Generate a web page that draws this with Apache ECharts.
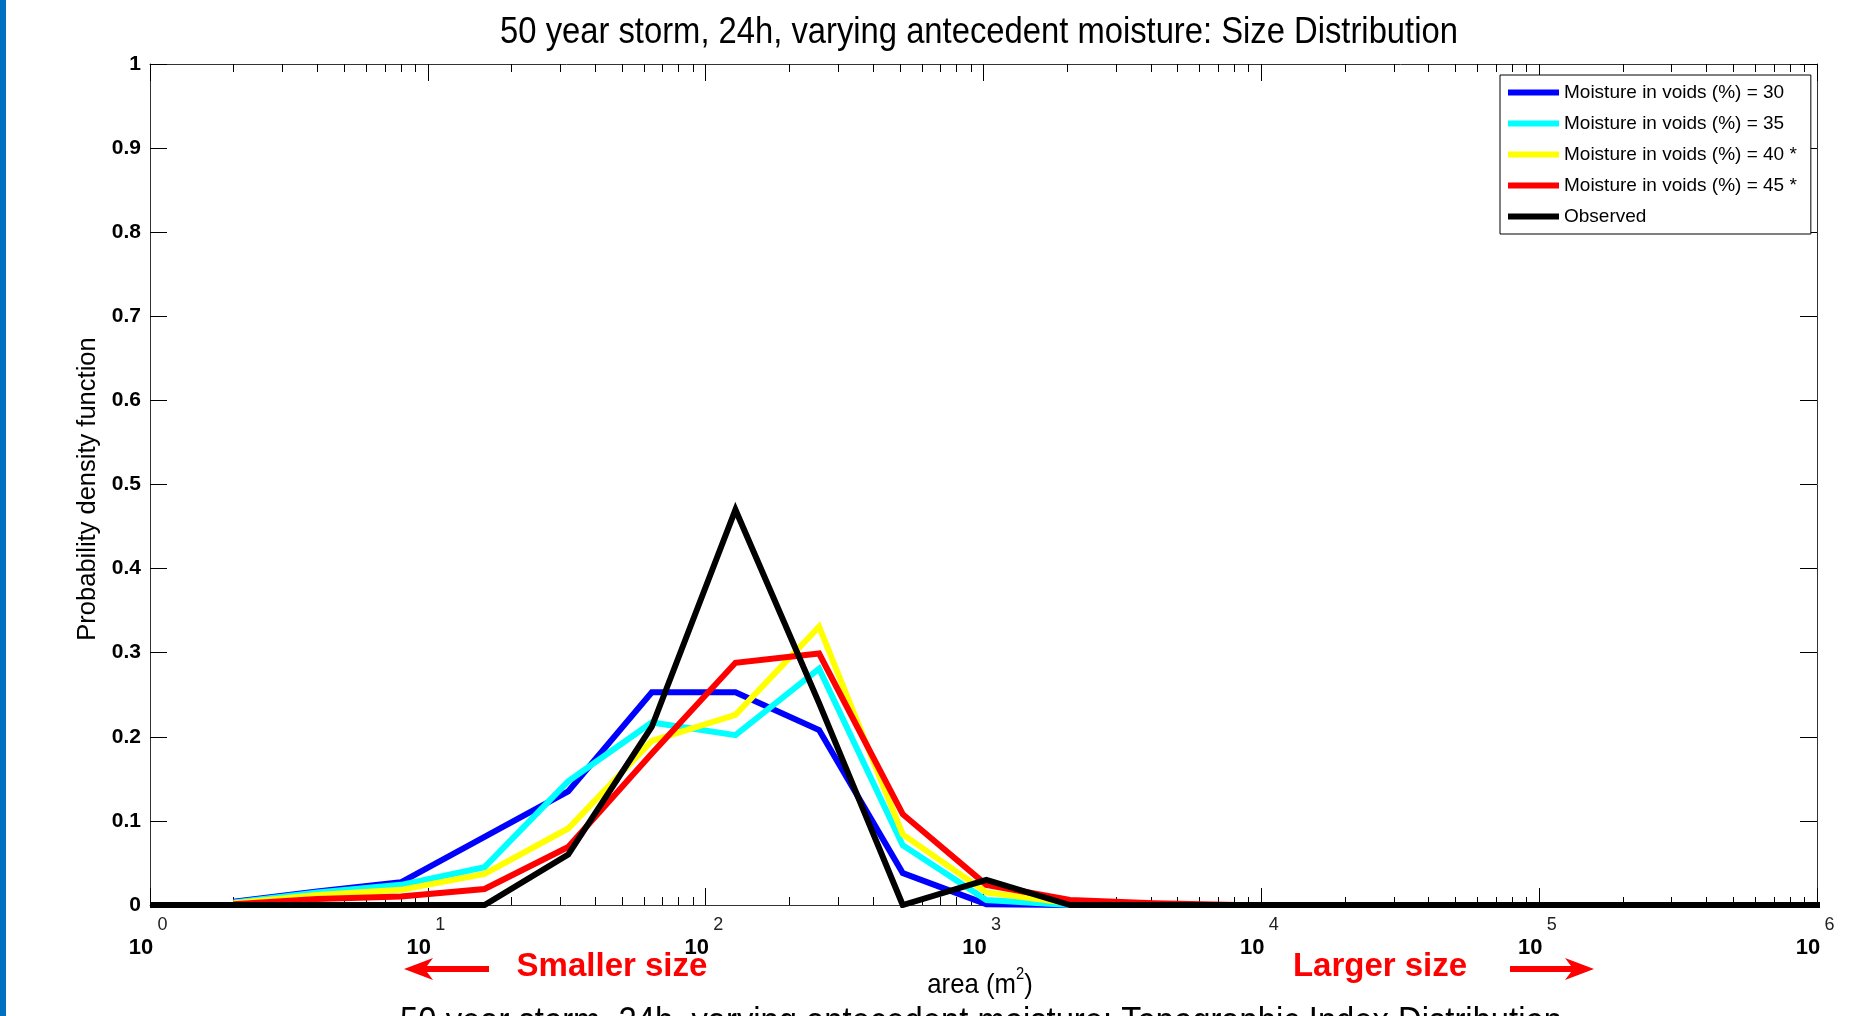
<!DOCTYPE html>
<html>
<head>
<meta charset="utf-8">
<script src="https://cdn.jsdelivr.net/npm/echarts@6/dist/echarts.min.js"></script>
<style>
  html, body { margin: 0; padding: 0; background: #fff; }
  #chart { width: 1872px; height: 1016px; }
</style>
</head>
<body>
<div id="chart"></div>
<script>
// Bin centres of the area histogram (m^2), doubling from 1 m^2
const areaBins = [1, 2, 4, 8, 16, 32, 64, 128, 256, 512, 1024, 2048, 4096, 8192,
  16384, 32768, 65536, 131072, 262144, 524288, 1048576];

// Probability density per bin (null = no value in that bin)
const moisture30 = [null, 0.004, 0.016, 0.027, 0.081, 0.135, 0.253, 0.253, 0.208, 0.038, 0.001, 0, 0, 0, 0, 0, 0, 0, 0, 0, 0];
const moisture35 = [null, 0.003, 0.015, 0.024, 0.045, 0.147, 0.217, 0.202, 0.281, 0.071, 0.006, 0, 0, 0, 0, 0, 0, 0, 0, 0, 0];
const moisture40 = [null, 0.002, 0.012, 0.018, 0.037, 0.091, 0.195, 0.226, 0.331, 0.084, 0.015, 0.002, 0, 0, 0, 0, 0, 0, 0, 0, 0];
const moisture45 = [null, 0.001, 0.007, 0.010, 0.019, 0.069, 0.180, 0.288, 0.299, 0.108, 0.024, 0.006, 0.002, 0, 0, 0, 0, 0, 0, 0, 0];
const observed   = [0, 0, 0, 0, 0, 0.060, 0.212, 0.470, 0.240, 0, 0.030, 0, 0, 0, 0, 0, 0, 0, 0, 0, 0];

const seriesNames = [
  'Moisture in voids (%) = 30',
  'Moisture in voids (%) = 35',
  'Moisture in voids (%) = 40 *',
  'Moisture in voids (%) = 45 *',
  'Observed'
];
const seriesColors = ['#0000ff', '#00ffff', '#ffff00', '#ff0000', '#000000'];
const seriesValues = [moisture30, moisture35, moisture40, moisture45, observed];

// Axis tick labels
const xTickExponents = ['0', '1', '2', '3', '4', '5', '6'];
const yTickLabels = ['0', '0.1', '0.2', '0.3', '0.4', '0.5', '0.6', '0.7', '0.8', '0.9', '1'];

const titleText = '50 year storm, 24h, varying antecedent moisture: Size Distribution';
const nextTitleText = '50 year storm, 24h, varying antecedent moisture: Topographic Index Distribution';

const sansFont = '"Liberation Sans", Arial, Helvetica, sans-serif';

const chart = echarts.init(document.getElementById('chart'), null, { renderer: 'canvas' });

function toPoints(values) {
  const pts = [];
  areaBins.forEach((a, i) => { if (values[i] != null) pts.push([a, values[i]]); });
  return pts;
}

function makeSeries(name, values, color) {
  return {
    name: name,
    type: 'line',
    data: toPoints(values),
    showSymbol: false,
    symbol: 'none',
    clip: true,
    lineStyle: { color: color, width: 6, join: 'miter', cap: 'butt' },
    itemStyle: { color: color },
    emphasis: { disabled: true },
    silent: true
  };
}

function logAxis(position) {
  return {
    type: 'log',
    logBase: 10,
    min: 1,
    max: 1000000,
    position: position,
    splitLine: { show: false },
    axisLine: { show: true, onZero: false, lineStyle: { color: '#333', width: 1 } },
    axisTick: { show: true, inside: true, length: 17, lineStyle: { color: '#000', width: 1 } },
    minorTick: { show: true, splitNumber: 9, length: 8, lineStyle: { color: '#000', width: 1 } },
    minorSplitLine: { show: false }
  };
}

function valueAxis(position) {
  return {
    type: 'value',
    min: 0,
    max: 1,
    interval: 0.1,
    position: position,
    splitLine: { show: false },
    axisLine: { show: true, onZero: false, lineStyle: { color: '#333', width: 1 } },
    axisTick: { show: true, inside: true, length: 17, lineStyle: { color: '#000', width: 1 } }
  };
}

const xBottom = logAxis('bottom');
xBottom.axisLabel = {
  show: true,
  margin: 9,
  showMinLabel: true,
  showMaxLabel: true,
  formatter: function (v) {
    const i = Math.round(Math.log10(v));
    return '{e|' + xTickExponents[i] + '}\n{b|10}';
  },
  rich: {
    e: { fontFamily: sansFont, fontSize: 18, color: '#222', lineHeight: 22, padding: [0, 0, 0, 25] },
    b: { fontFamily: sansFont, fontSize: 22, fontWeight: 'bold', color: '#000', lineHeight: 24, padding: [0, 18, 0, 0] }
  }
};
// mirrored axis along the top edge: ticks only
const xTop = logAxis('top');
xTop.axisLabel = { show: false };

const yLeft = valueAxis('left');
yLeft.axisLabel = {
  show: true,
  margin: 9,
  fontFamily: sansFont,
  fontSize: 21,
  fontWeight: 'bold',
  color: '#000',
  formatter: function (v) { return yTickLabels[Math.round(v * 10)]; }
};
const yRight = valueAxis('right');
yRight.axisLabel = { show: false };

const series = seriesNames.map((n, i) => makeSeries(n, seriesValues[i], seriesColors[i]));

const option = {
  animation: false,
  backgroundColor: '#ffffff',
  grid: { left: 150, right: 55, top: 64, bottom: 111, containLabel: false },
  xAxis: [xBottom, xTop],
  yAxis: [yLeft, yRight],
  legend: {
    orient: 'vertical',
    left: 1500,
    top: 75,
    padding: [8, 14, 8, 8],
    itemWidth: 51,
    itemHeight: 6,
    itemGap: 12,
    backgroundColor: '#ffffff',
    borderColor: '#000',
    borderWidth: 1,
    borderRadius: 0,
    selectedMode: false,
    textStyle: { fontFamily: sansFont, fontSize: 19, color: '#000', lineHeight: 19 },
    data: seriesNames.map(n => ({ name: n, icon: 'rect' }))
  },
  series: series,
  graphic: [
    // slide accent bar on the left edge
    { type: 'rect', left: 0, top: 0, shape: { width: 6, height: 1016 }, style: { fill: '#0070c0' }, z: 10 },
    // chart title
    {
      type: 'text', x: 979, y: 33, scaleX: 0.91,
      style: { text: titleText, font: '36px ' + sansFont, fill: '#000', align: 'center', verticalAlign: 'middle' }
    },
    // title of the following chart, cut by the page edge
    {
      type: 'text', x: 981, y: 1023, scaleX: 0.91,
      style: { text: nextTitleText, font: '36px ' + sansFont, fill: '#000', align: 'center', verticalAlign: 'middle' }
    },
    // y axis name
    {
      type: 'text', x: 88, y: 489, rotation: Math.PI / 2,
      style: { text: 'Probability density function', font: '25.5px ' + sansFont, fill: '#000', align: 'center', verticalAlign: 'middle' }
    },
    // x axis name with superscript
    {
      type: 'text', x: 980, y: 985, scaleX: 0.92,
      style: {
        text: '{a|area (m}{s|2}{a|)}',
        align: 'center', verticalAlign: 'middle',
        rich: {
          a: { fontFamily: sansFont, fontSize: 28, lineHeight: 36, fill: '#000', color: '#000' },
          s: { fontFamily: sansFont, fontSize: 16, lineHeight: 16, verticalAlign: 'top', fill: '#000', color: '#000' }
        }
      }
    },
    // direction hints
    {
      type: 'text', x: 612, y: 967,
      style: { text: 'Smaller size', font: 'bold 33px ' + sansFont, fill: '#ff0000', align: 'center', verticalAlign: 'middle' }
    },
    {
      type: 'text', x: 1380, y: 967,
      style: { text: 'Larger size', font: 'bold 33px ' + sansFont, fill: '#ff0000', align: 'center', verticalAlign: 'middle' }
    },
    {
      type: 'polygon',
      shape: { points: [[404, 969], [433, 958], [427, 966], [489, 966], [489, 972], [427, 972], [433, 980]] },
      style: { fill: '#ff0000' }
    },
    {
      type: 'polygon',
      shape: { points: [[1594, 969], [1565, 958], [1571, 966], [1510, 966], [1510, 972], [1571, 972], [1565, 980]] },
      style: { fill: '#ff0000' }
    }
  ]
};

chart.setOption(option);
</script>
</body>
</html>
